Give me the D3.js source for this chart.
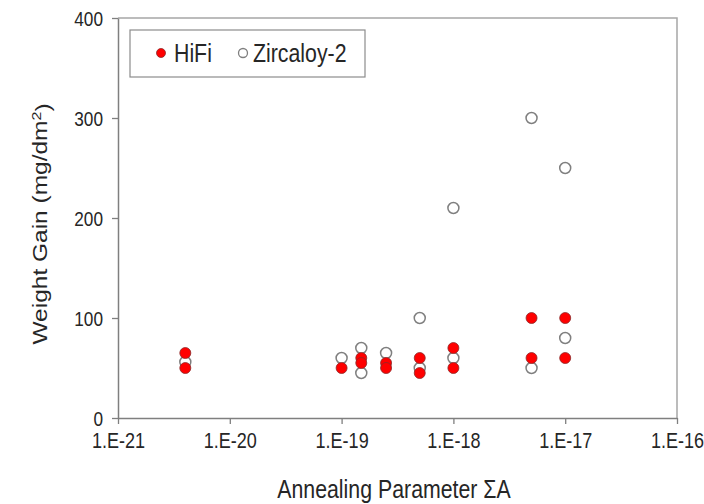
<!DOCTYPE html>
<html>
<head>
<meta charset="utf-8">
<script src="https://cdn.jsdelivr.net/npm/d3@7/dist/d3.min.js"></script>
<style>
  body { margin: 0; background: #fff; }
  text { font-family: "Liberation Sans", Arial, sans-serif; fill: #262626; }
</style>
</head>
<body>
<svg id="chart" width="704" height="504"></svg>
<script>
// Annealing parameter (ΣA) and weight gain for each alloy
const hifiA    = [4e-21, 4e-21, 1e-19, 1.5e-19, 1.5e-19, 2.5e-19, 2.5e-19, 5e-19, 5e-19, 1e-18, 1e-18, 5e-18, 5e-18, 1e-17, 1e-17];
const hifiGain = [65, 50, 50, 60, 55, 55, 50, 60, 45, 70, 50, 100, 60, 100, 60];
const zircA    = [4e-21, 1e-19, 1.5e-19, 1.5e-19, 2.5e-19, 5e-19, 5e-19, 1e-18, 1e-18, 5e-18, 5e-18, 1e-17, 1e-17];
const zircGain = [56, 60, 70, 45, 65, 100, 50, 210, 60, 300, 50, 250, 80];

const xTicks = [1e-21, 1e-20, 1e-19, 1e-18, 1e-17, 1e-16];
const xTickLabels = ["1.E-21", "1.E-20", "1.E-19", "1.E-18", "1.E-17", "1.E-16"];
const yTicks = [0, 100, 200, 300, 400];
const seriesNames = ["HiFi", "Zircaloy-2"];

const SX = 0.82; // condensed lettering
const svg = d3.select("#chart");

const x = d3.scaleLog().domain([1e-21, 1e-16]).range([118, 677]);
const y = d3.scaleLinear().domain([0, 400]).range([418, 18]);

// plot frame (top and right edges)
svg.append("path")
  .attr("d", `M${x.range()[0]},${y.range()[1]}H${x.range()[1]}V${y.range()[0]}`)
  .attr("fill", "none").attr("stroke", "#a6a6a6").attr("stroke-width", 1.5);

// y axis
const yAxis = svg.append("g").attr("transform", `translate(${x.range()[0]},0)`)
  .call(d3.axisLeft(y).tickValues(yTicks).tickSize(6).tickSizeOuter(0));
yAxis.select(".domain").attr("stroke", "#7f7f7f").attr("stroke-width", 1.5);
yAxis.selectAll(".tick line").attr("stroke", "#7f7f7f").attr("stroke-width", 1.3);
yAxis.selectAll(".tick text")
  .attr("x", 0).attr("dy", "0.36em")
  .attr("transform", `translate(-15,0) scale(${SX},1)`)
  .style("font-size", "21px");

// x axis
const xAxis = svg.append("g").attr("transform", `translate(0,${y.range()[0]})`)
  .call(d3.axisBottom(x).tickValues(xTicks).tickFormat((d, i) => xTickLabels[i]).tickSize(6).tickSizeOuter(0));
xAxis.select(".domain").attr("stroke", "#7f7f7f").attr("stroke-width", 1.5);
xAxis.selectAll(".tick line").attr("stroke", "#7f7f7f").attr("stroke-width", 1.3);
xAxis.selectAll(".tick text")
  .attr("y", 0).attr("dy", 0)
  .attr("transform", `translate(0,30) scale(${SX},1)`)
  .style("font-size", "22px");

// axis titles
svg.append("text")
  .attr("transform", `translate(394,498) scale(${SX},1)`)
  .attr("text-anchor", "middle")
  .style("font-size", "26px")
  .text("Annealing Parameter ΣA");

// rotated title: the glyphs are squeezed across their height
const yTitle = svg.append("text")
  .attr("transform", `translate(47,224) rotate(-90) scale(1,${SX})`)
  .attr("text-anchor", "middle")
  .style("font-size", "24.5px");
yTitle.append("tspan").text("Weight Gain (mg/dm");
yTitle.append("tspan").attr("dy", "-0.45em").style("font-size", "16px").text("2");
yTitle.append("tspan").attr("dy", "0.45em").text(")");

// markers: Zircaloy-2 first, HiFi drawn over it
const pts = svg.append("g");
pts.selectAll("circle.zirc").data(zircA).join("circle")
  .attr("class", "zirc")
  .attr("cx", d => x(d)).attr("cy", (d, i) => y(zircGain[i])).attr("r", 5.5)
  .attr("fill", "#fff").attr("stroke", "#7f7f7f").attr("stroke-width", 1.5);
pts.selectAll("circle.hifi").data(hifiA).join("circle")
  .attr("class", "hifi")
  .attr("cx", d => x(d)).attr("cy", (d, i) => y(hifiGain[i])).attr("r", 5.5)
  .attr("fill", "#ff0000").attr("stroke", "#8c2a2a").attr("stroke-width", 0.8);

// legend
const lg = svg.append("g");
lg.append("rect").attr("x", 130).attr("y", 30).attr("width", 235).attr("height", 47)
  .attr("fill", "#fff").attr("stroke", "#8c8c8c").attr("stroke-width", 1.2);
const legendItems = [
  { name: seriesNames[0], mx: 161, tx: 174, fill: "#ff0000", stroke: "#8c2a2a", sw: 0.8 },
  { name: seriesNames[1], mx: 243, tx: 253, fill: "#fff", stroke: "#7f7f7f", sw: 1.3 }
];
legendItems.forEach(it => {
  lg.append("circle").attr("cx", it.mx).attr("cy", 53).attr("r", 4.5)
    .attr("fill", it.fill).attr("stroke", it.stroke).attr("stroke-width", it.sw);
  lg.append("text").attr("transform", `translate(${it.tx},62) scale(${SX},1)`)
    .style("font-size", "26px").text(it.name);
});
</script>
</body>
</html>
